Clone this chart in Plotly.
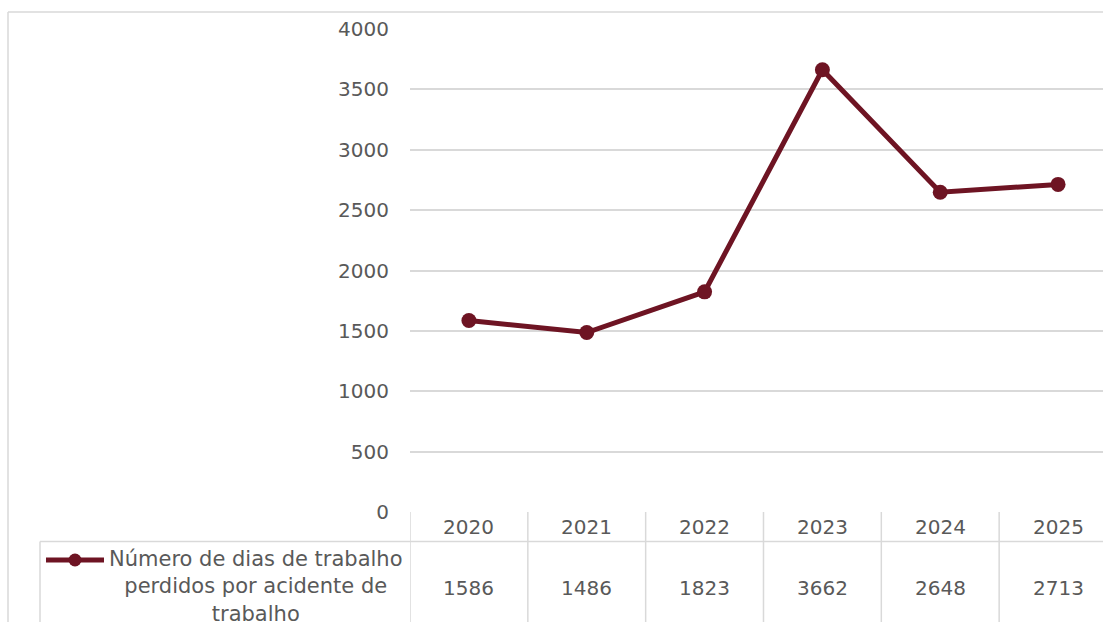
import plotly.graph_objects as go

years = ["2020", "2021", "2022", "2023", "2024", "2025"]
values = [1586, 1486, 1823, 3662, 2648, 2713]
series_name = "Número de dias de trabalho<br>perdidos por acidente de<br>trabalho"
y_ticks = [0, 500, 1000, 1500, 2000, 2500, 3000, 3500, 4000]

W, H = 1103, 622
LINE_COLOR = "#6E1423"
TEXT_COLOR = "#595959"
GRID = "#D9D9D9"
FONT = "DejaVu Sans"

def px(x):
    return x / W

def py(y):
    return (H - y) / H

xs = list(range(len(years)))

fig = go.Figure()
fig.add_trace(go.Scatter(
    x=xs, y=values, mode="lines+markers",
    line=dict(color=LINE_COLOR, width=5),
    marker=dict(color=LINE_COLOR, size=15),
    showlegend=False, cliponaxis=False,
))

col_w = 117.83
xmax = -0.5 + (W - 410) / col_w

shapes = []
shapes.append(dict(type="line", xref="paper", yref="paper", x0=px(8), x1=1.05, y0=py(12), y1=py(12),
                   line=dict(color=GRID, width=1.5)))
shapes.append(dict(type="line", xref="paper", yref="paper", x0=px(8), x1=px(8), y0=py(12), y1=-0.1,
                   line=dict(color=GRID, width=1.5)))
shapes.append(dict(type="line", xref="paper", yref="paper", x0=px(40), x1=1.05, y0=py(541.5), y1=py(541.5),
                   line=dict(color=GRID, width=1.5)))
shapes.append(dict(type="line", xref="paper", yref="paper", x0=px(40), x1=px(40), y0=py(541.5), y1=-0.1,
                   line=dict(color=GRID, width=1.5)))
for i in range(len(years) + 1):
    shapes.append(dict(type="line", xref="x", yref="paper", x0=i - 0.5, x1=i - 0.5, y0=py(512), y1=-0.1,
                       line=dict(color=GRID, width=1.5)))
shapes.append(dict(type="line", xref="paper", yref="paper", x0=px(46), x1=px(104), y0=py(560), y1=py(560),
                   line=dict(color=LINE_COLOR, width=5)))
shapes.append(dict(type="circle", xref="paper", yref="paper", x0=px(68.5), x1=px(81.5), y0=py(553.5), y1=py(566.5),
                   fillcolor=LINE_COLOR, line=dict(color=LINE_COLOR, width=0)))

annotations = []
for i, (yr, v) in enumerate(zip(years, values)):
    annotations.append(dict(x=i, y=py(527), xref="x", yref="paper", text=yr, showarrow=False,
                            font=dict(family=FONT, size=20, color=TEXT_COLOR), xanchor="center", yanchor="middle"))
    annotations.append(dict(x=i, y=py(588), xref="x", yref="paper", text=str(v), showarrow=False,
                            font=dict(family=FONT, size=20, color=TEXT_COLOR), xanchor="center", yanchor="middle"))
annotations.append(dict(x=px(256), y=py(586), xref="paper", yref="paper", text=series_name, showarrow=False,
                        align="center", font=dict(family=FONT, size=21, color=TEXT_COLOR),
                        xanchor="center", yanchor="middle"))

fig.update_layout(
    width=W, height=H,
    margin=dict(l=0, r=0, t=0, b=0, autoexpand=False),
    paper_bgcolor="white", plot_bgcolor="white",
    font=dict(family=FONT, size=20, color=TEXT_COLOR),
    xaxis=dict(domain=[px(410), 1], range=[-0.5, xmax], showgrid=False, showticklabels=False,
               zeroline=False, showline=False, fixedrange=True, automargin=False),
    yaxis=dict(domain=[py(512), py(29)], range=[0, 4000], tickvals=y_ticks,
               ticktext=[str(t) for t in y_ticks], showgrid=True, gridcolor=GRID, gridwidth=1.5,
               zeroline=False, showline=False, ticks="", ticklabelstandoff=20, automargin=False,
               fixedrange=True, tickfont=dict(family=FONT, size=20, color=TEXT_COLOR)),
    shapes=shapes,
    annotations=annotations,
    showlegend=False,
)

fig.write_html("out.html", config={"displayModeBar": False},
               post_script="document.body.style.margin='0px';document.body.style.padding='0px';document.body.style.overflow='hidden';")
